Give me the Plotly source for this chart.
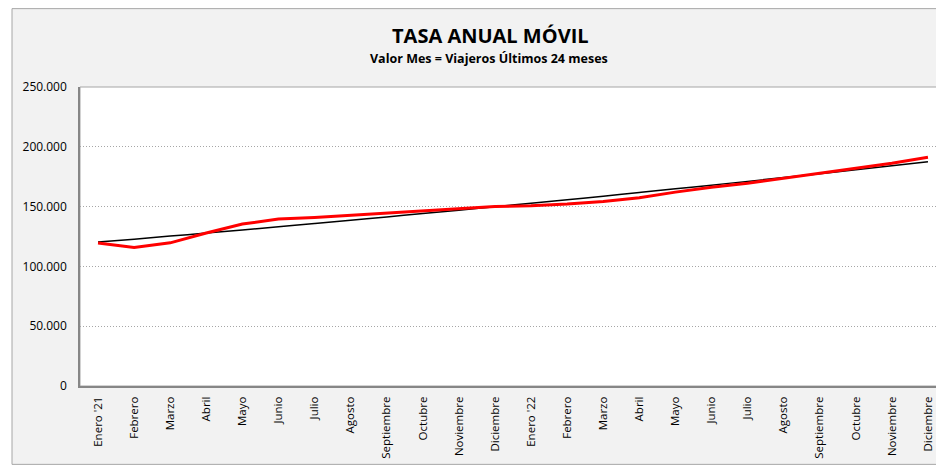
import numpy as np
import plotly.graph_objects as go

meses = ["Enero '21", "Febrero", "Marzo", "Abril", "Mayo", "Junio", "Julio", "Agosto",
         "Septiembre", "Octubre", "Noviembre", "Diciembre",
         "Enero '22", "Febrero", "Marzo", "Abril", "Mayo", "Junio", "Julio", "Agosto",
         "Septiembre", "Octubre", "Noviembre", "Diciembre"]
viajeros = [119530, 115860, 119700, 127880, 135390, 139560, 140810, 142650,
            144570, 146410, 148330, 150160, 150660, 152080, 154250, 157340,
            162100, 166200, 169610, 173790, 177620, 181550, 186310, 191200]
y_ticks = [0, 50000, 100000, 150000, 200000, 250000]

# Línea de tendencia (polinómica de orden 2, calculada a partir de los datos)
xs = np.arange(len(meses))
coef = np.polyfit(xs, viajeros, 2)
tendencia = np.polyval(coef, xs)

OFF = 8  # page body margin
W, H = 944, 458
L, T = 80 - OFF, 87 - OFF
plot_bottom = 386.5 - OFF
plot_right = 946 - OFF
R = W - plot_right
B = H - plot_bottom
pw, ph = W - L - R, H - T - B

def px(x):
    return (x - OFF - L) / pw

def py(y):
    return (H - B - (y - OFF)) / ph

fig = go.Figure()
fig.add_trace(go.Scatter(x=xs, y=tendencia, mode="lines", line_shape="spline",
                         line=dict(color="#000000", width=1.5), hoverinfo="skip"))
fig.add_trace(go.Scatter(x=xs, y=viajeros, mode="lines",
                         line=dict(color="#ff0000", width=3)))

shapes = [
    dict(type="rect", xref="paper", yref="paper", x0=px(12), x1=px(975), y0=py(465), y1=py(8.5),
         fillcolor="#f2f2f2", line=dict(color="#a6a6a6", width=1), layer="below"),
    dict(type="rect", xref="paper", yref="paper", x0=0, x1=1.05, y0=0, y1=1,
         fillcolor="#ffffff", line=dict(color="#a6a6a6", width=1), layer="below"),
]

fig.update_layout(
    width=W, height=H,
    margin=dict(l=L, r=R, t=T, b=B, pad=0),
    paper_bgcolor="#ffffff", plot_bgcolor="#ffffff",
    showlegend=False,
    separators=",.",
    shapes=shapes,
    annotations=[
        dict(text="<b>TASA ANUAL MÓVIL</b>", xref="paper", yref="paper", x=px(490), y=py(35),
             xanchor="center", yanchor="middle", showarrow=False,
             font=dict(family="Open Sans", size=20, color="#000000")),
        dict(text="<b>Valor Mes = Viajeros Últimos 24 meses</b>", xref="paper", yref="paper",
             x=px(489), y=py(58), xanchor="center", yanchor="middle", showarrow=False,
             font=dict(family="Open Sans", size=12.5, color="#000000")),
    ],
    xaxis=dict(
        range=[-0.5, 23.5],
        tickmode="array", tickvals=list(xs), ticktext=meses, tickangle=-90,
        showgrid=False, zeroline=False,
        showline=True, linecolor="#868686", linewidth=2,
        ticks="outside", ticklen=4, tickcolor="rgba(0,0,0,0)",
        tickfont=dict(family="Open Sans", size=11.5, color="#000000"),
        fixedrange=True,
    ),
    yaxis=dict(
        range=[0, 250000], tickmode="array", tickvals=y_ticks, tickformat=",.0f",
        showgrid=True, gridcolor="#a6a6a6", griddash="1px,2px", gridwidth=1,
        zeroline=False,
        showline=True, linecolor="#868686", linewidth=1.5,
        ticks="outside", ticklen=9, tickcolor="rgba(0,0,0,0)",
        tickfont=dict(family="Open Sans", size=12, color="#000000"),
        fixedrange=True,
    ),
)

fig.write_html("out.html")
